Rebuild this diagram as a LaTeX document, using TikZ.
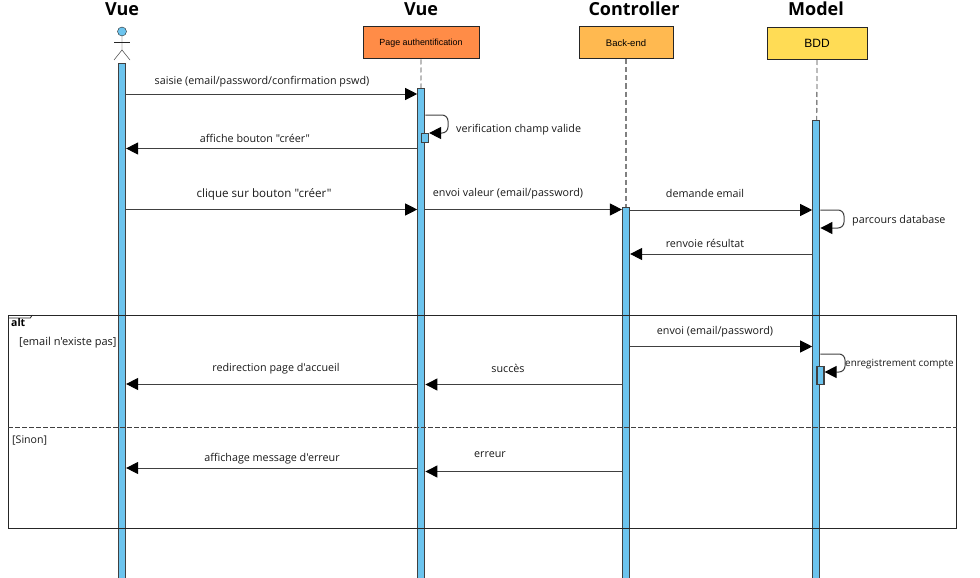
\documentclass[tikz,border=0pt]{standalone}
\usepackage{fontspec}
\setmainfont{Open Sans}[Ligatures=TeXOff]
\newfontfamily\boxfont{Liberation Sans}
\usetikzlibrary{arrows.meta}

\definecolor{barblue}{HTML}{6CC4EE}
\definecolor{pageorange}{HTML}{FF8C47}
\definecolor{backorange}{HTML}{FFB950}
\definecolor{bddyellow}{HTML}{FFDC55}
\tikzstyle{title} = [font=\fontsize{18}{20}\selectfont\bfseries, text=black, inner sep=0pt]
\tikzstyle{object} = [rectangle, minimum height=32pt, inner sep=0pt, text centered, draw=black!85, line width=1pt, font=\boxfont\fontsize{9.5}{11}\selectfont]
\tikzstyle{bar} = [rectangle, anchor=north, minimum width=7pt, inner sep=0pt, draw=black!75, line width=1.2pt, fill=barblue]
\tikzstyle{lifeline} = [dashed, dash pattern=on 5pt off 3pt, line width=1pt, draw=black!75]
\tikzstyle{flow} = [line width=1pt, draw=black!75, -{Triangle[length=12pt,width=12pt,color=black]}]
\tikzstyle{selfflow} = [flow, rounded corners=6pt]
\tikzstyle{msg} = [font=\fontsize{10.75}{12}\selectfont, text=black!90, inner sep=0pt]

\begin{document}
\begin{tikzpicture}[x=1pt, y=-1pt]
      \useasboundingbox (0,0) rectangle (980,578);

      \node (vueactor) [title] at (122,9) {Vue};
      \node (vuepage) [title] at (421,9) {Vue};
      \node (controller) [title] at (634,9) {Controller};
      \node (model) [title] at (816,9) {Model};

      \node (page) [object, fill=pageorange, minimum width=116pt, font=\boxfont\fontsize{8.9}{10}\selectfont] at (421,43) {Page authentification};
      \node (back) [object, fill=backorange, minimum width=94pt, font=\boxfont\fontsize{9.5}{11}\selectfont] at (626,43) {Back-end};
      \node (bdd) [object, fill=bddyellow, minimum width=100pt, font=\boxfont\fontsize{12}{14}\selectfont] at (817,43.5) {BDD};

      % actor
      \node (head) [circle, minimum size=9pt, inner sep=0pt, draw=black!85, fill=barblue] at (122,31.5) {};
      \draw [black!85] (head.south) -- (122,50) -- (114,60);
      \draw [black!85] (122,50) -- (130,60);
      \draw [black!85] (114,42) -- (130,42);

      % bars
      \node (actorbar) [bar, minimum height=515pt] at (122,63) {};
      \node (pagebar) [bar, minimum height=490pt] at (421.3,88) {};
      \node (backbar) [bar, minimum height=371pt] at (626,207) {};
      \node (bddbar) [bar, minimum height=458pt] at (816.3,120) {};
      \node (pagecheck) [bar, minimum width=7pt, minimum height=9pt] at (425,133) {};
      \node (bddcheck) [bar, minimum width=7pt, minimum height=18pt] at (820.5,366) {};

      \draw [lifeline, line width=0.8pt] (page) -- (pagebar);
      \draw [lifeline, line width=1.2pt, draw=black!50] (back) -- (backbar);
      \draw [lifeline, line width=0.8pt] (bdd) -- (bddbar);

      % alt frame
      \node (alt) [rectangle, anchor=north west, minimum width=948pt, minimum height=213pt, inner sep=0pt, draw=black!85, line width=1pt] at (8.3,315) {};
      \draw [dashed, dash pattern=on 5pt off 2pt, black!75, line width=1pt] (alt.west |- 0,427) -- (alt.east |- 0,427);
      \draw [black!85, line width=0.8pt] (alt.north west) ++(0,3) -- ++(22,0) -- ++(2,-3);
      \node (alttag) [msg, font=\fontsize{10.5}{12}\selectfont\bfseries, text=black, anchor=west] at (11,323) {alt};
      \node (case) [msg, anchor=west, font=\fontsize{11}{12}\selectfont] at (19,343) {[email n'existe pas]};
      \node (sinon) [msg, anchor=west, font=\fontsize{10.6}{12}\selectfont] at (12,440) {[Sinon]};

      % messages
      \draw [flow] (actorbar.east |- 0,94) -- (pagebar.west |- 0,94);
      \node (saisie) [msg] at (262,81.5) {saisie (email/password/confirmation pswd)};
      \draw [selfflow] (pagebar.east |- 0,115) -| (448,133) -- (pagecheck.north east);
      \node (verif) [msg, anchor=west] at (456,129.5) {verification champ valide};
      \draw [flow] (pagebar.west |- 0,148.5) -- (actorbar.east |- 0,148.5);
      \node (affiche) [msg] at (255,138) {affiche bouton "créer"};
      \draw [flow] (actorbar.east |- 0,209.5) -- (pagebar.west |- 0,209.5);
      \node (clique) [msg, font=\fontsize{11.6}{13}\selectfont] at (264,194) {clique sur bouton "créer"};
      \draw [flow] (pagebar.east |- 0,209.5) -- (backbar.west |- 0,209.5);
      \node (envoi) [msg] at (508,194) {envoi valeur (email/password)};
      \draw [flow] (backbar.east |- 0,210) -- (bddbar.west |- 0,210);
      \node (demande) [msg] at (705,193) {demande email};
      \draw [selfflow] (bddbar.east |- 0,210) -| (844,228) -- (bddbar.east |- 0,228);
      \node (parcours) [msg, anchor=west] at (852,220.5) {parcours database};
      \draw [flow] (bddbar.west |- 0,254) -- (backbar.east |- 0,254);
      \node (renvoie) [msg] at (705,243) {renvoie résultat};
      \draw [flow] (backbar.east |- 0,346.5) -- (bddbar.west |- 0,346.5);
      \node (envoibdd) [msg] at (715,331.5) {envoi (email/password)};
      \draw [selfflow] (bddbar.east |- 0,354) -| (845,372) -- (bddcheck.east |- 0,372);
      \node (enreg) [msg, anchor=west, font=\fontsize{9.9}{11}\selectfont] at (845,364.5) {enregistrement compte};
      \draw [flow] (backbar.west |- 0,384.5) -- (pagebar.east |- 0,384.5);
      \node (succes) [msg] at (508,368) {succès};
      \draw [flow] (pagebar.west |- 0,384) -- (actorbar.east |- 0,384);
      \node (redirect) [msg] at (276,368.5) {redirection page d'accueil};
      \draw [flow] (pagebar.west |- 0,468) -- (actorbar.east |- 0,468);
      \node (affichage) [msg] at (272,458.5) {affichage message d'erreur};
      \draw [flow] (backbar.west |- 0,471.5) -- (pagebar.east |- 0,471.5);
      \node (erreur) [msg] at (490,454.5) {erreur};
\end{tikzpicture}
\end{document}
